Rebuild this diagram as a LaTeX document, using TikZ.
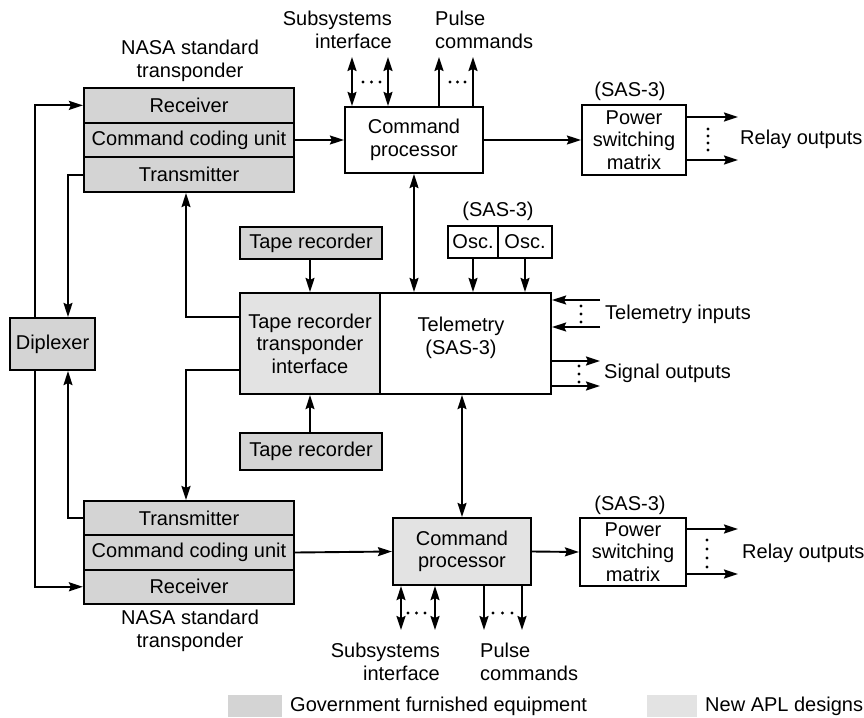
\documentclass[tikz,border=0pt]{standalone}
\usepackage{fontspec}
\setmainfont{Liberation Sans}
\usetikzlibrary{arrows.meta,calc}
\definecolor{gfe}{HTML}{D4D4D4}
\definecolor{apl}{HTML}{E3E3E3}
\begin{document}
\begin{tikzpicture}[x=1pt,y=-1pt,
  font=\fontsize{20}{22.5}\selectfont,
  bx/.style 2 args={draw,line width=2.2pt,inner sep=0pt,align=center,minimum width=#1,minimum height=#2},
  lbl/.style={inner sep=0pt,align=center},
  arr/.style={-{Stealth[length=14pt,width=9pt,inset=2pt]},line width=1.9pt},
  darr/.style={{Stealth[length=14pt,width=9pt,inset=2pt]}-{Stealth[length=14pt,width=9pt,inset=2pt]},line width=1.9pt},
  dot/.style={fill=black}
]
\useasboundingbox (0,0) rectangle (864,717);

% --- top transponder
\node[bx={210}{34.7},fill=gfe] (rx1) at (189,105.35) {Receiver};
\node[bx={210}{34.7},fill=gfe] (cc1) at (189,140) {Command coding unit};
\node[bx={210}{34.7},fill=gfe] (tx1) at (189,174.65) {Transmitter};
\node[lbl] (nasa1) at (190,61) {NASA standard\\transponder};

% --- bottom transponder
\node[bx={210}{34.3},fill=gfe] (tx2) at (189,518.2) {Transmitter};
\node[bx={210}{34.3},fill=gfe] (cc2) at (189,552.5) {Command coding unit};
\node[bx={210}{34.3},fill=gfe] (rx2) at (189,586.8) {Receiver};
\node[lbl] (nasa2) at (190,631) {NASA standard\\transponder};

% --- diplexer
\node[bx={85}{52},fill=gfe] (dip) at (52.5,344) {Diplexer};

% --- command processors and power matrices
\node[bx={138}{66}] (cmd1) at (414,140) {Command\\processor};
\node[bx={138}{67},fill=apl] (cmd2) at (462,551.5) {Command\\processor};
\node[bx={104}{70}] (pw1) at (634,140) {Power\\switching\\matrix};
\node[bx={106}{68}] (pw2) at (633,552) {Power\\switching\\matrix};
\node[lbl] (sas1) at (630,91) {(SAS-3)};
\node[lbl] (sas2) at (630,505) {(SAS-3)};
\node[lbl,anchor=west] (rel1) at (740,139) {Relay outputs};
\node[lbl,anchor=west] (rel2) at (742,553) {Relay outputs};

% --- tape recorders, interface, telemetry
\node[bx={142}{32},fill=gfe] (tape1) at (311,243) {Tape recorder};
\node[bx={142}{37},fill=gfe] (tape2) at (311,451.5) {Tape recorder};
\node[bx={140}{101},fill=apl] (tri) at (310,343.5) {Tape recorder\\transponder\\interface};
\node[bx={171}{101}] (tel) at (465.5,343.5) {};
\node[lbl] (teltxt) at (461,338) {Telemetry\\(SAS-3)};
\node[bx={50}{32}] (osc1) at (473,242) {Osc.};
\node[bx={54}{32}] (osc2) at (525,242) {Osc.};
\node[lbl] (sas3) at (498,211) {(SAS-3)};
\node[lbl,anchor=west] (tin) at (605,314) {Telemetry inputs};
\node[lbl,anchor=west] (sout) at (604,373) {Signal outputs};

% --- subsystem / pulse labels
\node[lbl,align=right,anchor=east] (sub1) at (392,30) {Subsystems\\interface};
\node[lbl,align=left,anchor=west] (pul1) at (435,30) {Pulse\\commands};
\node[lbl,align=right,anchor=east] (sub2) at (440,662) {Subsystems\\interface};
\node[lbl,align=left,anchor=west] (pul2) at (480,662) {Pulse\\commands};

% --- legend
\node[fill=gfe,inner sep=0pt,minimum width=54,minimum height=22] (sw1) at (255,706) {};
\node[lbl,anchor=west] (lg1) at (290,706) {Government furnished equipment};
\node[fill=apl,inner sep=0pt,minimum width=50,minimum height=22] (sw2) at (672,706) {};
\node[lbl,anchor=west] (lg2) at (705,706) {New APL designs};

% --- coordinates
\coordinate (xa) at (35,0);
\coordinate (xb) at (68,0);
\coordinate (xc) at (186,0);
\coordinate (yA) at (0,317);
\coordinate (yB) at (0,370);
\coordinate (s1) at (352,57);
\coordinate (s2) at (388,57);
\coordinate (p1) at (439,57);
\coordinate (p2) at (473,57);
\coordinate (bs1) at (401,630);
\coordinate (bs2) at (435,630);
\coordinate (bp1) at (484,630);
\coordinate (bp2) at (522,630);
\coordinate (r1a) at (738,117);
\coordinate (r1b) at (738,160);
\coordinate (r2a) at (738,529);
\coordinate (r2b) at (738,574);
\coordinate (ti1) at (600,300);
\coordinate (ti2) at (600,327);
\coordinate (so1) at (600,361);
\coordinate (so2) at (600,386);

% --- diplexer links
\draw[arr] (dip.north -| xa) |- (rx1.west);
\draw[arr] (tx1.west) -| (dip.north -| xb);
\draw[arr] (dip.south -| xa) |- (rx2.west);
\draw[arr] (tx2.west) -| (dip.south -| xb);

% --- interface links
\draw[arr] (tri.west |- yA) -| (tx1.south -| xc);
\draw[arr] (tri.west |- yB) -| (tx2.north -| xc);
\draw[arr] (tape1.south -| tri.north) -- (tri.north);
\draw[arr] (tape2.north -| tri.south) -- (tri.south);

% --- command chain
\draw[arr] (cc1.east) -- (cmd1.west);
\draw[arr] (cmd1.east) -- (pw1.west);
\draw[arr] (cc2.east) -- (cmd2.west);
\draw[arr] (cmd2.east) -- (pw2.west);
\draw[darr] (cmd1.south) -- (cmd1.south |- tel.north);
\draw[darr] (cmd2.north |- tel.south) -- (cmd2.north);
\draw[arr] (osc1.south) -- (osc1.south |- tel.north);
\draw[arr] (osc2.south) -- (osc2.south |- tel.north);

% --- subsystem and pulse lines
\draw[darr] (cmd1.north -| s1) -- (s1);
\draw[darr] (cmd1.north -| s2) -- (s2);
\draw[arr] (cmd1.north -| p1) -- (p1);
\draw[arr] (cmd1.north -| p2) -- (p2);
\draw[darr] (cmd2.south -| bs1) -- (bs1);
\draw[darr] (cmd2.south -| bs2) -- (bs2);
\draw[arr] (cmd2.south -| bp1) -- (bp1);
\draw[arr] (cmd2.south -| bp2) -- (bp2);

% --- relay outputs
\draw[arr] (pw1.east |- r1a) -- (r1a);
\draw[arr] (pw1.east |- r1b) -- (r1b);
\draw[arr] (pw2.east |- r2a) -- (r2a);
\draw[arr] (pw2.east |- r2b) -- (r2b);

% --- telemetry inputs / outputs
\draw[arr] (ti1) -- (tel.east |- ti1);
\draw[arr] (ti2) -- (tel.east |- ti2);
\draw[arr] (tel.east |- so1) -- (so1);
\draw[arr] (tel.east |- so2) -- (so2);

% --- dots
\foreach \x in {363,371.5,380} \fill[dot] (\x,82) circle (1.6);
\foreach \x in {450,457.5,465} \fill[dot] (\x,82) circle (1.6);
\foreach \x in {408,416.5,425} \fill[dot] (\x,613) circle (1.6);
\foreach \x in {493,502.5,512} \fill[dot] (\x,613) circle (1.6);
\foreach \y in {129,136,143,150} \fill[dot] (708,\y) circle (1.6);
\foreach \y in {540,549,558,567} \fill[dot] (707,\y) circle (1.6);
\foreach \y in {306,314,322} \fill[dot] (581,\y) circle (1.6);
\foreach \y in {366,374,382} \fill[dot] (579,\y) circle (1.6);
\end{tikzpicture}
\end{document}
